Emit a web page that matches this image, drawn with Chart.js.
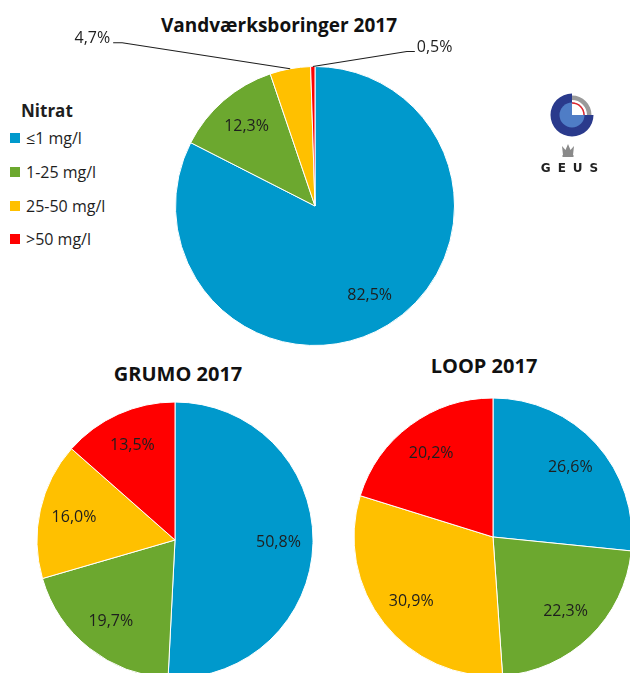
<!DOCTYPE html>
<html>
<head>
<meta charset="utf-8">
<script src="https://cdn.jsdelivr.net/npm/chart.js@4.4.1/dist/chart.umd.min.js"></script>
<style>
    body { margin: 0; width: 630px; height: 673px; overflow: hidden; background: #fff; position: relative; font-family: "Open Sans", sans-serif; color: #1e1e1e; }
    .box { position: absolute; }
    .title { position: absolute; font-weight: bold; white-space: nowrap; transform: translate(-50%, -50%); color: #111; }
    #legend { position: absolute; left: 0; top: 0; }
    .legend-title { position: absolute; left: 21px; top: 99px; font-size: 17px; font-weight: bold; line-height: 24px; }
    .legend-item { position: absolute; left: 10px; font-size: 16px; line-height: 20px; white-space: nowrap; }
    .legend-item span { display: inline-block; width: 10px; height: 10px; margin-right: 6px; vertical-align: 1px; }
    #logo { position: absolute; left: 535px; top: 88px; }
</style>
</head>
<body>
<div class="title" style="left:279px; top:25px; font-size:19px;">Vandværksboringer 2017</div>
<div class="title" style="left:178px; top:373px; font-size:20px;">GRUMO 2017</div>
<div class="title" style="left:484px; top:365px; font-size:20px;">LOOP 2017</div>

<div id="legend"><div class="legend-title">Nitrat</div></div>

<div class="box" style="left:0; top:0; width:630px; height:360px;"><canvas id="vandChart" width="630" height="360"></canvas></div>
<div class="box" style="left:30px; top:395px; width:290px; height:290px;"><canvas id="grumoChart" width="290" height="290"></canvas></div>
<div class="box" style="left:348px; top:392px; width:290px; height:290px;"><canvas id="loopChart" width="290" height="290"></canvas></div>

<svg id="logo" width="80" height="90" viewBox="0 0 80 90">
    <!-- navy three-quarter disc -->
    <path d="M37 27 L58.5 27 A21.5 21.5 0 1 1 37 5.5 Z" fill="#2a3a8c"/>
    <!-- grey quarter ring -->
    <path d="M37 7.5 A19.5 19.5 0 0 1 56.5 27 L52 27 A15 15 0 0 0 37 12 Z" fill="#9a9a9a"/>
    <!-- inner disc -->
    <circle cx="37" cy="27" r="12.5" fill="#4f7dc6"/>
    <path d="M37 27 L37 15 A12 12 0 0 1 49 27 Z" fill="#fff"/>
    <path d="M37 15 A12 12 0 0 1 49 27" fill="none" stroke="#e0282e" stroke-width="1.5"/>
    <!-- crown -->
    <path d="M28 67 L27 58 L30.5 62 L33 56 L35.5 62 L39 58 L38 67 Z" fill="#8a8a8a"/>
    <rect x="27.5" y="67" width="11" height="2" fill="#8a8a8a"/>
    <text x="38" y="84" text-anchor="middle" font-family="DejaVu Sans, sans-serif" font-size="12" font-weight="bold" letter-spacing="7" fill="#222">GEUS</text>
</svg>

<script>
const categories = ["≤1 mg/l", "1-25 mg/l", "25-50 mg/l", ">50 mg/l"];
const vandvaerkValues = [82.5, 12.3, 4.7, 0.5];
const grumoValues = [50.8, 19.7, 16.0, 13.5];
const loopValues = [26.6, 22.3, 30.9, 20.2];
const sliceColors = ["#0099cc", "#6ca82f", "#ffc000", "#ff0000"];

// legend (html, built from the categories)
const legend = document.getElementById("legend");
const legendRows = [128, 162, 196, 229];
categories.forEach(function (cat, i) {
    const item = document.createElement("div");
    item.className = "legend-item";
    item.style.top = legendRows[i] + "px";
    item.innerHTML = '<span style="background:' + sliceColors[i] + '"></span>' + cat;
    legend.appendChild(item);
});

const formatPct = function (v) {
    return v.toFixed(1).replace(".", ",") + "%";
};

// draws the percentage labels, inside the slice or on a leader line
const pctLabels = {
    id: "pctLabels",
    afterDatasetsDraw(chart, args, opts) {
        const ctx = chart.ctx;
        const meta = chart.getDatasetMeta(0);
        const values = chart.data.datasets[0].data;
        ctx.save();
        ctx.font = '16px "Open Sans"';
        ctx.fillStyle = "#1e1e1e";
        ctx.strokeStyle = "#1e1e1e";
        ctx.lineWidth = 1.2;
        ctx.textBaseline = "middle";
        meta.data.forEach(function (arc, i) {
            const p = arc.getProps(["x", "y", "startAngle", "endAngle", "outerRadius"], true);
            const mid = (p.startAngle + p.endAngle) / 2;
            const text = formatPct(values[i]);
            const lead = opts.leaders && opts.leaders[i];
            if (lead) {
                const ex = p.x + Math.cos(mid) * p.outerRadius;
                const ey = p.y + Math.sin(mid) * p.outerRadius;
                const kx = ex + lead.dx;
                const ky = ey + lead.dy;
                const tx = kx + lead.elbow;
                ctx.beginPath();
                ctx.moveTo(ex, ey);
                ctx.lineTo(kx, ky);
                ctx.lineTo(tx, ky);
                ctx.stroke();
                ctx.textAlign = lead.elbow < 0 ? "right" : "left";
                ctx.fillText(text, tx + (lead.elbow < 0 ? -3 : 2), ky - 4);
            } else {
                const r = p.outerRadius * opts.radiusFactor;
                ctx.textAlign = "center";
                ctx.fillText(text, p.x + Math.cos(mid) * r, p.y + Math.sin(mid) * r);
            }
        });
        ctx.restore();
    },
};

const makePie = function (canvasId, values, radius, padding, leaders) {
    return new Chart(document.getElementById(canvasId), {
        type: "pie",
        data: {
            labels: categories,
            datasets: [
                {
                    data: values,
                    backgroundColor: sliceColors,
                    borderColor: "#ffffff",
                    borderWidth: 1,
                },
            ],
        },
        options: {
            responsive: false,
            animation: false,
            radius: radius,
            layout: { padding: padding },
            plugins: {
                legend: { display: false },
                tooltip: { enabled: false },
                title: { display: false },
                pctLabels: { radiusFactor: 0.75, leaders: leaders || null },
            },
        },
        plugins: [pctLabels],
    });
};

makePie("vandChart", vandvaerkValues, 139.5, { top: 66, bottom: 14, left: 0, right: 0 }, {
    2: { dx: -168, dy: -26, elbow: -9 },
    3: { dx: 94, dy: -15, elbow: 8 },
});
makePie("grumoChart", grumoValues, 138, 0);
makePie("loopChart", loopValues, 139, 0);
</script>
</body>
</html>
